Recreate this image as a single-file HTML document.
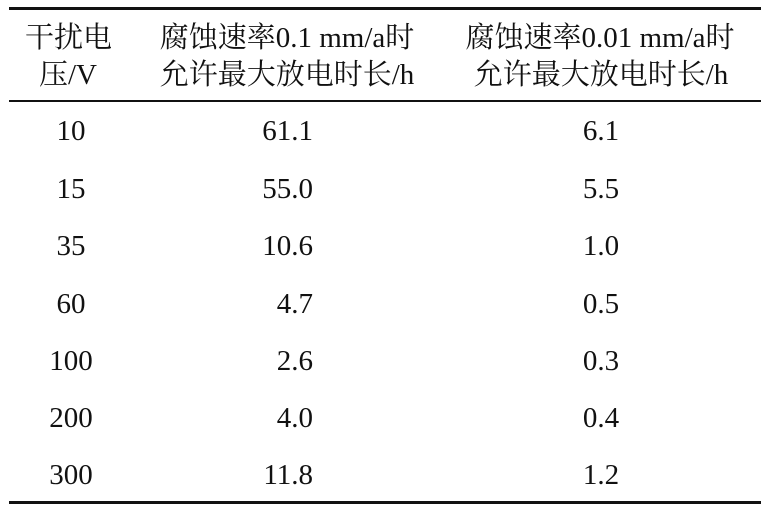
<!DOCTYPE html>
<html><head><meta charset="utf-8"><style>
body{margin:0;width:768px;height:511px;background:#fff;position:relative;overflow:hidden;font-family:"Liberation Serif","Noto Serif CJK SC","Noto Sans CJK SC",serif;color:#111;}
.r{position:absolute;left:9px;width:752px;background:#111;}
.t{position:absolute;font-size:29px;line-height:34px;white-space:nowrap;}
.c{transform:translateX(-50%);}
.rt{transform:translateX(-100%);}
</style></head><body>
<div class="r" style="top:7px;height:3px"></div>
<div class="r" style="top:100px;height:2px"></div>
<div class="r" style="top:501px;height:3px"></div>
<div class="t" style="left:25px;top:21px">干扰电</div>
<div class="t" style="left:39px;top:58px">压/V</div>
<div class="t c" style="left:287px;top:21px">腐蚀速率0.1 mm/a时</div>
<div class="t c" style="left:287px;top:58px">允许最大放电时长/h</div>
<div class="t c" style="left:600px;top:21px">腐蚀速率0.01 mm/a时</div>
<div class="t c" style="left:601px;top:58px">允许最大放电时长/h</div>

<div class="t c" style="left:71px;top:114px">10</div>
<div class="t rt" style="left:313px;top:114px">61.1</div>
<div class="t c" style="left:601px;top:114px">6.1</div>

<div class="t c" style="left:71px;top:172px">15</div>
<div class="t rt" style="left:313px;top:172px">55.0</div>
<div class="t c" style="left:601px;top:172px">5.5</div>

<div class="t c" style="left:71px;top:229px">35</div>
<div class="t rt" style="left:313px;top:229px">10.6</div>
<div class="t c" style="left:601px;top:229px">1.0</div>

<div class="t c" style="left:71px;top:287px">60</div>
<div class="t rt" style="left:313px;top:287px">4.7</div>
<div class="t c" style="left:601px;top:287px">0.5</div>

<div class="t c" style="left:71px;top:344px">100</div>
<div class="t rt" style="left:313px;top:344px">2.6</div>
<div class="t c" style="left:601px;top:344px">0.3</div>

<div class="t c" style="left:71px;top:401px">200</div>
<div class="t rt" style="left:313px;top:401px">4.0</div>
<div class="t c" style="left:601px;top:401px">0.4</div>

<div class="t c" style="left:71px;top:458px">300</div>
<div class="t rt" style="left:313px;top:458px">11.8</div>
<div class="t c" style="left:601px;top:458px">1.2</div>
</body></html>
